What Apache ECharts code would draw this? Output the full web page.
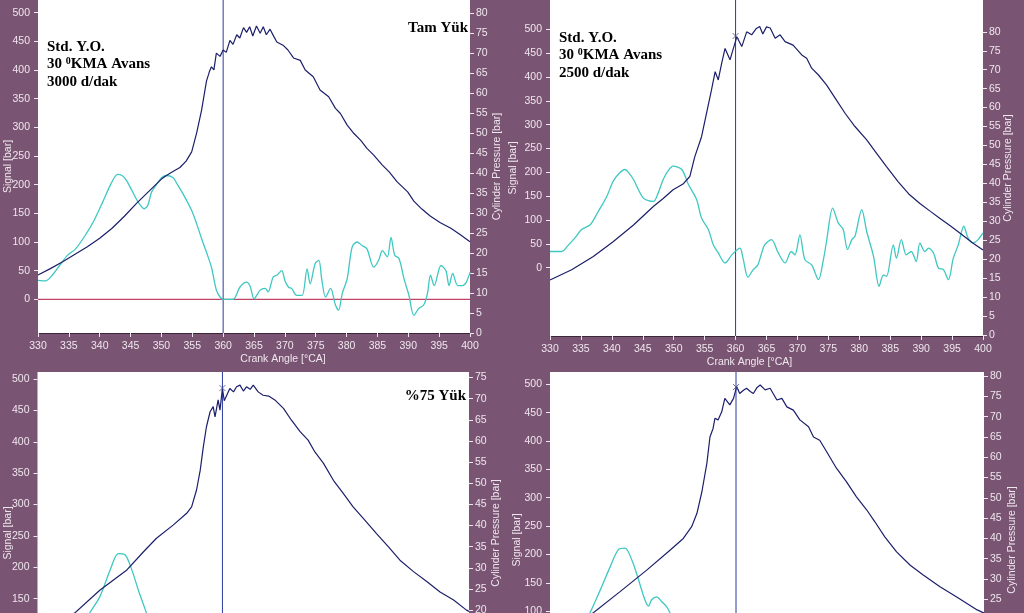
<!DOCTYPE html>
<html><head><meta charset="utf-8">
<script src="https://cdn.jsdelivr.net/npm/echarts@6/dist/echarts.min.js"></script>
<style>html,body{margin:0;padding:0;background:#7a5573}#c{width:1024px;height:613px}</style>
</head><body><div id="c"></div>
<script>
// ---- tick labels ----
const crankTicks = [330,335,340,345,350,355,360,365,370,375,380,385,390,395,400];
const signalTicks = [0,50,100,150,200,250,300,350,400,450,500];
const pressureTicks = [0,5,10,15,20,25,30,35,40,45,50,55,60,65,70,75,80];

// ---- panel texts ----
const panelTitles = ['Tam Yük', '', '%75 Yük', ''];
const panelNotes = [['Std. Y.O.', '30 {s|0}KMA Avans', '3000 d/dak'], ['Std. Y.O.', '30 {s|0}KMA Avans', '2500 d/dak'], [], []];

// ---- panel 1 (Tam Yük, 3000 d/dak) ----
const p1Pressure = [[330,14.5],[332,16.1],[334,17.8],[336,19.7],[338,21.6],[340,23.7],[342,26.2],[344,29.2],[346,32.5],[348,35.5],[350,38.5],[351,39.6],[352,40.5],[353,41.4],[354,43],[354.9,45.3],[355.7,50],[356.5,55.7],[357.3,63],[357.8,65.5],[358.1,66.6],[358.5,65.8],[358.9,70],[359.5,69.2],[360,70.8],[360.5,70.2],[361.1,73.2],[361.6,72.2],[362.2,74.6],[362.7,73.8],[363.3,76.4],[363.8,75.2],[364.3,76.6],[364.8,74.3],[365.4,76.8],[366,75],[366.5,76.6],[367,74.6],[367.6,76],[368.2,74.2],[368.7,72.8],[369.7,72],[370.5,70.8],[371.4,68.8],[372.5,68.2],[373.3,65.8],[374.6,64.1],[375.7,60.8],[377.1,59.1],[378.2,56.2],[379,54.9],[380.1,52],[381.2,49.9],[382.3,48.2],[383.3,46.2],[384.4,44.5],[385.8,42],[386.9,40.3],[388.2,37.8],[389.9,35.3],[390.9,33],[392.2,31],[393.6,29.2],[395.2,27.6],[396.9,26.2],[398.5,24.5],[400,22.8]];
const p1Signal = [[330,33],[331.2,32],[332.3,42],[333.7,62],[334.8,77],[336.1,88],[337.8,114],[339.1,138],[340.5,170],[341.8,201],[342.9,218],[343.6,216],[344.3,208],[345.3,188],[346.2,170],[347.2,158],[347.8,164],[348.4,187],[349.4,203],[350,212],[350.8,216],[351.9,212],[352.5,202],[353.5,184],[354.9,155],[355.7,132],[356.5,106],[357.3,82],[358.1,56],[358.9,16],[359.5,4],[360,0],[361.6,0],[362.7,21],[363.8,30],[364.4,22],[365,1],[366,16],[366.8,19],[367.3,13],[368.1,39],[368.7,42],[369.5,50],[370,33],[370.6,21],[371.1,19],[371.9,7],[372.8,7],[373.6,53],[374.1,27],[374.9,62],[375.5,68],[376,33],[376.6,4],[377.4,19],[378.2,-10],[378.7,-19],[379.3,10],[380.1,36],[380.9,91],[381.7,100],[382.5,94],[383.3,88],[384.4,56],[385.2,68],[385.8,85],[386.6,74],[387.2,108],[387.8,77],[388.5,71],[389.3,36],[390.1,7],[390.9,-28],[391.7,-16],[392.5,-10],[393.1,10],[393.6,42],[394.2,24],[395.3,59],[396.1,50],[396.6,24],[397.2,45],[398,24],[398.8,24],[399.4,30],[400,47]];

// ---- panel 2 (Tam Yük, 2500 d/dak) ----
const p2Pressure = [[330,14.5],[333.5,17.2],[337,20.7],[340.2,24.6],[343.5,29],[346.7,33.9],[348.3,36],[349.9,38.3],[351.5,39.8],[352.6,41.8],[353.4,47],[354.5,52.3],[355.3,58.5],[356.1,64.6],[356.7,69.5],[357.2,67.3],[357.75,71.7],[358.3,75.6],[359.1,72.6],[359.9,77],[360.2,78.7],[361,76.1],[361.8,80],[362.6,79.2],[363.3,80.8],[363.9,81.4],[364.4,79.4],[365,81.3],[365.6,81],[366.4,78.3],[367.2,79.2],[368,77.4],[369.3,76.5],[370.7,73.9],[371.5,73],[372.3,70.4],[373.4,68.6],[374.7,66],[376.1,62.5],[377.7,58.5],[379.3,55],[381.2,51.5],[382.8,47.9],[384.4,44.4],[386.3,40.4],[388,37.2],[389.8,34.7],[391.5,32.6],[393,30.8],[394.7,28.8],[396.3,26.8],[398.4,24.2],[400,22.4]];
const p2Signal = [[330,34],[331.9,34],[333,48],[334,62],[335.1,80],[336.5,90],[337.8,118],[339.2,150],[340.2,181],[341.2,198],[342.1,206],[342.8,198],[343.5,185],[345.1,146],[346.7,139],[347.5,157],[348.3,185],[349.2,205],[349.9,213],[351.3,206],[352.4,174],[353.7,143],[354.5,104],[355.6,80],[356.4,48],[357.2,31],[358.3,10],[359.4,27],[360.7,41],[361.2,20],[362,-20],[362.8,-5],[363.6,6],[364.2,30],[364.7,48],[365.8,59],[366.9,31],[368,10],[369,34],[369.6,27],[370.4,69],[371.2,17],[372.3,6],[373.4,-25],[374.2,17],[374.7,55],[375.7,125],[376.6,94],[377.4,80],[378.1,38],[378.8,59],[379.3,66],[380.4,122],[381.2,76],[382.3,24],[383.2,-39],[383.9,-15],[384.4,-18],[385.5,48],[386,20],[386.8,59],[387.6,27],[388.4,34],[389.2,13],[389.8,52],[390.6,34],[391.2,41],[392,31],[392.8,-1],[393.6,-4],[394.4,-25],[395.2,20],[396,48],[396.9,87],[397.6,62],[398.4,52],[399.2,59],[400,73]];

// ---- panel 3 (%75 Yük, 3000 d/dak) ----
const p3Pressure = [[330,14.5],[333,17],[336.1,19.4],[340.1,24.7],[344.5,29.5],[347.2,33.8],[349.3,37],[352,40.1],[354.2,42.9],[355,44.4],[355.8,48.4],[356.4,53.1],[356.9,58.6],[357.4,63.3],[358,66.9],[358.5,68.1],[358.8,65.7],[359.3,69.7],[359.6,67.3],[360,72.4],[360.3,69.5],[360.7,70.8],[361.2,72.4],[361.8,71.6],[362.3,72.8],[362.85,73.2],[363.4,71.8],[363.9,72.8],[364.5,72.2],[365,73.2],[365.8,71.6],[366.6,70.8],[367.5,70.6],[368.5,69.7],[369.9,67.7],[371.2,64.9],[372.6,62.2],[373.9,60.2],[375,57.4],[376.4,54.7],[378,50.7],[379.6,47.6],[381.2,44.4],[383.1,41.3],[385,38.1],[386.9,35],[388.8,31.8],[391,29.1],[393.2,26.7],[395.3,24.3],[397.5,22.4],[399.6,20],[400,19.7]];
const p3Signal = [[336.8,100],[338.5,128],[340.1,153],[341.8,196],[343.1,222],[344.2,220],[345.3,196],[346.35,164],[347.4,135],[348.6,100]];

// ---- panel 4 (%75 Yük, 2500 d/dak) ----
const p4Pressure = [[330,15],[333.5,18.5],[337,21.7],[341.3,26.9],[345.6,32.2],[349.35,37.1],[351.5,40],[352.85,42.9],[353.7,46.2],[354.5,51.5],[355.3,58.5],[355.8,65],[356.3,67.1],[356.6,69.6],[357.1,69.2],[357.7,71.2],[358.2,74.5],[359,72.9],[359.6,74.5],[360.1,77.4],[360.6,75.7],[361.2,76.5],[361.7,77],[362.3,76.2],[362.8,75.7],[363.4,77.2],[363.9,77.8],[364.7,76.6],[365.5,77],[366.6,74.1],[367.4,74.5],[368.2,72.4],[369.25,71.6],[370.3,69.2],[371.7,67.5],[372.5,65],[373.5,64.2],[374.6,61.4],[376.2,57.3],[377.8,54],[379.4,50.3],[381.1,47],[382.4,44.1],[384,40.4],[385.9,36.7],[388.1,33.4],[390.2,31],[392.9,28.1],[395.6,25.6],[398.9,22.4],[400,21.6]];
const p4Signal = [[335.5,80],[336.45,97],[338.1,137],[339.7,178],[341,208],[342.1,211],[343.2,190],[344.2,158],[345.3,120],[345.9,109],[346.4,120],[347.2,125],[348,117],[348.8,108],[349.35,97],[350.2,80]];

const peakMarks = [null, [360,78.9], [360,72.5], [360,77.3]];
const tdcAngle = 360;   // vertical reference line
const signalZero = 0;   // horizontal reference line (panel 1)
const pressureSets = [p1Pressure, p2Pressure, p3Pressure, p4Pressure];
const signalSets = [p1Signal, p2Signal, p3Signal, p4Signal];

// ---- layout (pixel positions / axis extents) ----
const layout = [
  {left:38, top:0, width:432, height:333, sMin:-58.8, sMax:522.2, pMin:0, pMax:83.3, lGap:24, rGap:22, namePad:[0,0,0,58], zero:true},
  {left:550, top:0, width:433, height:336, sMin:-143.2, sMax:561.5, pMin:-0.3, pMax:88.4, lGap:31, rGap:20, namePad:[0,34,0,0], zero:false},
  {left:37.5, top:372, width:431.5, height:322, sMin:-1.75, sMax:511.2, pMin:0.17, pMax:76.3, lGap:24, rGap:22, namePad:[0,0,0,0], zero:false},
  {left:550, top:372, width:434, height:336, sMin:-70.9, sMax:521.7, pMin:-1.77, pMax:81, lGap:27, rGap:23, namePad:[0,0,0,0], zero:false}
];

const LBL = '#efe6ee', FONT = 'Liberation Sans', NAVY = '#1c1f6a', CYAN = '#3ec8c2', VLINE = '#2a3aa0', RED = '#b3163f';
const grids = [], xAxes = [], yAxes = [], series = [];
layout.forEach((L, i) => {
  grids.push({left:L.left, top:L.top, width:L.width, height:L.height, show:true, backgroundColor:'#ffffff', borderWidth:0,
    containLabel:false, outerBoundsMode:'none'});
  xAxes.push({type:'value', gridIndex:i, min:330, max:400,
    name:'Crank Angle [°CA]', nameLocation:'middle', nameGap:21, nameMoveOverlap:false,
    nameTextStyle:{color:LBL, fontFamily:FONT, fontSize:10.5, padding:L.namePad},
    axisLine:{show:true, onZero:false, lineStyle:{color:'#3a2838', width:1}},
    axisTick:{show:true, length:4, lineStyle:{color:LBL}, customValues:crankTicks},
    axisLabel:{color:LBL, fontFamily:FONT, fontSize:10.5, margin:8, customValues:crankTicks},
    splitLine:{show:false}});
  const sIdx = yAxes.length;
  yAxes.push({type:'value', gridIndex:i, position:'left', min:L.sMin, max:L.sMax,
    name:'Signal [bar]', nameLocation:'middle', nameGap:L.lGap, nameRotate:90, nameMoveOverlap:false,
    nameTextStyle:{color:LBL, fontFamily:FONT, fontSize:10.5},
    axisLine:{show:false, onZero:false}, axisTick:{show:true, length:4, lineStyle:{color:LBL}, customValues:signalTicks},
    axisLabel:{color:LBL, fontFamily:FONT, fontSize:10.5, margin:8, customValues:signalTicks},
    splitLine:{show:false}});
  const pIdx = yAxes.length;
  const pt = pressureTicks.filter(v => v <= L.pMax && v >= L.pMin);
  yAxes.push({type:'value', gridIndex:i, position:'right', min:L.pMin, max:L.pMax,
    name:'Cylinder Pressure [bar]', nameLocation:'middle', nameGap:L.rGap, nameRotate:90, nameMoveOverlap:false,
    nameTextStyle:{color:LBL, fontFamily:FONT, fontSize:10.5},
    axisLine:{show:false, onZero:false}, axisTick:{show:true, length:4, lineStyle:{color:LBL}, customValues:pt},
    axisLabel:{color:LBL, fontFamily:FONT, fontSize:10.5, margin:6, customValues:pt},
    splitLine:{show:false}});
  if (L.zero) {
    series.push({type:'line', xAxisIndex:i, yAxisIndex:sIdx, data:[[330,signalZero],[400,signalZero]], symbol:'none',
      lineStyle:{color:RED, width:1}, z:2, silent:true});
  }
  series.push({type:'line', xAxisIndex:i, yAxisIndex:pIdx, data:[[tdcAngle,L.pMin],[tdcAngle,L.pMax]], symbol:'none',
    lineStyle:{color:VLINE, width:1}, z:2, silent:true});
  series.push({type:'line', xAxisIndex:i, yAxisIndex:sIdx, data:signalSets[i], symbol:'none', smooth:0.3,
    lineStyle:{color:CYAN, width:1.3}, z:3});
  series.push({type:'line', xAxisIndex:i, yAxisIndex:pIdx, data:pressureSets[i], symbol:'none',
    lineStyle:{color:NAVY, width:1.2}, z:4});
  if (peakMarks[i]) {
    series.push({type:'scatter', xAxisIndex:i, yAxisIndex:pIdx, data:[peakMarks[i]],
      symbol:'path://M0,0L10,10M10,0L0,10', symbolSize:6,
      itemStyle:{color:'rgba(0,0,0,0)', borderColor:'#4a4f8a', borderWidth:1}, z:5});
  }
});

const notePos = [[47,46.7],[559,37.7]];
const graphic = [];
panelNotes.forEach((lines, i) => {
  lines.forEach((t, k) => {
    graphic.push({type:'text', x:notePos[i][0], y:notePos[i][1] + k*17.5,
      style:{text:t, fill:'#000', font:'bold 15px "Liberation Serif"', verticalAlign:'middle',
        rich:{s:{fontSize:10, fontFamily:'Liberation Serif', fontWeight:'bold', verticalAlign:'top', fill:'#000'}}}});
  });
});
const titlePos = [[468,27.7],null,[466,396],null];
panelTitles.forEach((t, i) => {
  if (t) graphic.push({type:'text', x:titlePos[i][0], y:titlePos[i][1],
    style:{text:t, fill:'#000', font:'bold 15px "Liberation Serif"', align:'right', verticalAlign:'middle'}});
});

const chart = echarts.init(document.getElementById('c'));
chart.setOption({animation:false, backgroundColor:'#7a5573', grid:grids, xAxis:xAxes, yAxis:yAxes, series:series, graphic:graphic});
</script></body></html>
